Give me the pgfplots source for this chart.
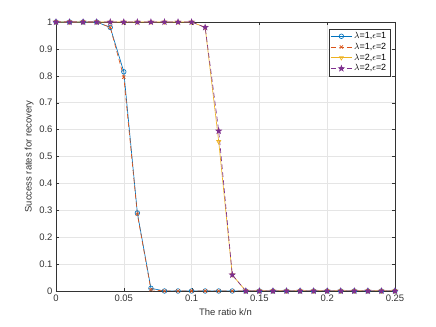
\documentclass[border=0pt]{standalone}
\usepackage{fontspec}
\setmainfont{Liberation Sans}
\usepackage{pgfplots}
\pgfplotsset{compat=1.18}
\usetikzlibrary{calc}
\definecolor{mblue}{rgb}{0,0.447,0.741}
\definecolor{morange}{rgb}{0.85,0.325,0.098}
\definecolor{myellow}{rgb}{0.929,0.694,0.125}
\definecolor{mpurple}{rgb}{0.494,0.184,0.556}

% filled five-pointed star
\pgfdeclareplotmark{pstar}{%
  \pgfpathmoveto{\pgfpointpolar{90}{1.25\pgfplotmarksize}}%
  \foreach \a in {1,...,9}{%
    \pgfmathsetmacro{\r}{mod(\a,2)==0 ? 1.25 : 0.5}%
    \pgfpathlineto{\pgfpointpolar{90+36*\a}{\r\pgfplotmarksize}}}%
  \pgfpathclose\pgfusepathqfillstroke}

\pgfplotstableread{
x     a     b     c     d
0     1     1     1     1
0.01  1     1     1     1
0.02  1     1     1     1
0.03  1     1     1     1
0.04  0.98  0.98  1     1
0.05  0.815 0.795 1     1
0.06  0.29  0.285 1     1
0.07  0.01  0.005 1     1
0.08  0     0     1     1
0.09  0     0     1     1
0.10  0     0     1     1
0.11  0     0     0.98  0.98
0.12  0     0     0.555 0.595
0.13  0     0     0.06  0.06
0.14  0     0     0     0
0.15  0     0     0     0
0.16  0     0     0     0
0.17  0     0     0     0
0.18  0     0     0     0
0.19  0     0     0     0
0.20  0     0     0     0
0.21  0     0     0     0
0.22  0     0     0     0
0.23  0     0     0     0
0.24  0     0     0     0
0.25  0     0     0     0
}\rates

\begin{document}
\begin{tikzpicture}
\begin{axis}[name=ax,scale only axis,width=339bp,height=269bp,
  xmin=0,xmax=0.25,ymin=0,ymax=1,
  xtick={0,0.05,...,0.25},ytick={0,0.1,...,1},
  xticklabels={0,0.05,0.1,0.15,0.2,0.25},
  yticklabels={0,0.1,0.2,0.3,0.4,0.5,0.6,0.7,0.8,0.9,1},
  grid=major,major grid style={gray!20,line width=0.5pt},
  axis line style={black!80},tick style={black!80},
  tick align=inside,major tick length=3bp,
  xtick pos=both,ytick pos=both,
  tick label style={font=\fontsize{9.5}{11}\selectfont,text=black!80},
  label style={font=\fontsize{9.5}{11}\selectfont,text=black!80},
  xlabel={The ratio k/n},ylabel={Success rates for recovery},
  xlabel shift=1bp,ylabel shift=-1bp,
  legend pos=north east,
  legend style={font=\fontsize{9}{10}\selectfont,draw=black!80,
    row sep=-1pt,inner sep=1.5pt,at={(0.985,0.975)}},
  legend cell align=left,
  legend image code/.code={%
    \draw[mark repeat=2,mark phase=2] plot coordinates {(0bp,0bp)(10.5bp,0bp)(21bp,0bp)};},
  dash/.style={dash pattern=on 5bp off 3bp},
  every axis plot/.append style={line width=0.65pt,mark size=2.3pt}]
\addplot[mblue,mark=o] table[x=x,y=a]{\rates};
\addlegendentry{$\lambda$=1,$\epsilon$=1}
\addplot[morange,dash,mark=x,mark options={solid}] table[x=x,y=b]{\rates};
\addlegendentry{$\lambda$=1,$\epsilon$=2}
\addplot[myellow,mark=triangle,mark options={rotate=180}] table[x=x,y=c]{\rates};
\addlegendentry{$\lambda$=2,$\epsilon$=1}
\addplot[mpurple,dash,mark=pstar,mark options={solid,fill=mpurple}] table[x=x,y=d]{\rates};
\addlegendentry{$\lambda$=2,$\epsilon$=2}
\end{axis}
\pgfresetboundingbox
\path ($(ax.south west)+(-56bp,-36bp)$) rectangle ($(ax.north east)+(41bp,22bp)$);
\end{tikzpicture}
\end{document}
